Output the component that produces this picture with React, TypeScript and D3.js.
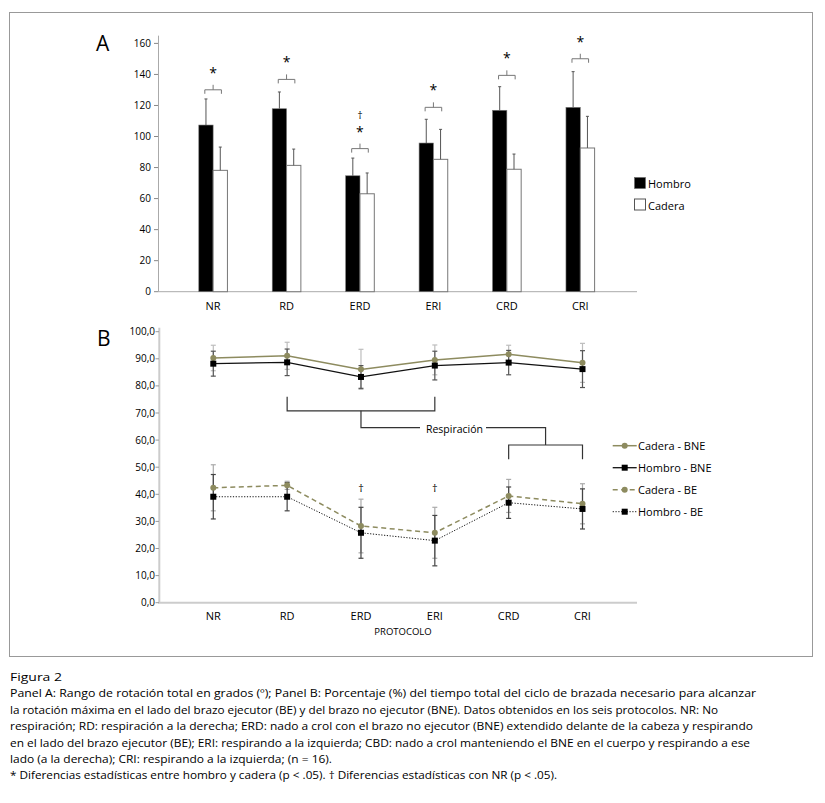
import React from "react";
import * as d3 from "d3";

const W = 825;
const H = 803;
const FONT = "'Open Sans', 'Noto Sans', sans-serif";

// protocols
const categories = ["NR", "RD", "ERD", "ERI", "CRD", "CRI"];

// Panel A: total rotation range (degrees), mean and SD
const hombroA = [107.4, 117.9, 74.7, 95.8, 116.9, 118.8];
const hombroASd = [16.8, 10.8, 11.4, 15.3, 15.2, 23.0];
const caderaA = [78.2, 81.4, 63.1, 85.3, 78.9, 92.6];
const caderaASd = [15.0, 10.5, 13.4, 19.3, 9.8, 20.4];
// height of the significance brackets (same units as the y axis)
const bracketA = [130.1, 136.8, 92.2, 118.8, 139.4, 150.1];
const daggerA = [false, false, true, false, false, false];
const ticksA = [0, 20, 40, 60, 80, 100, 120, 140, 160];

// Panel B: % of stroke cycle, mean and SD
const caderaBNE = [90.3, 91.1, 86.1, 89.6, 91.7, 88.5];
const caderaBNESd = [4.7, 5.0, 7.4, 5.5, 3.3, 7.2];
const hombroBNE = [88.2, 88.7, 83.3, 87.5, 88.6, 86.2];
const hombroBNESd = [4.6, 4.9, 4.2, 5.3, 4.5, 6.8];
const caderaBE = [42.4, 43.3, 28.3, 25.8, 39.4, 36.5];
const caderaBESd = [8.5, 1.5, 9.9, 9.4, 6.1, 7.4];
const hombroBE = [39.1, 39.1, 25.8, 22.9, 36.9, 34.6];
const hombroBESd = [8.2, 5.2, 9.4, 9.3, 5.8, 7.4];
const daggerB = [false, false, true, true, false, false];
const ticksB = [0, 10, 20, 30, 40, 50, 60, 70, 80, 90, 100];

const OLIVE = "#8d8b5f";

const caption = [
  "Figura 2",
  "Panel A: Rango de rotación total en grados (º); Panel B: Porcentaje (%) del tiempo total del ciclo de brazada necesario para alcanzar",
  "la rotación máxima en el lado del brazo ejecutor (BE) y del brazo no ejecutor (BNE). Datos obtenidos en los seis protocolos. NR: No",
  "respiración; RD: respiración a la derecha; ERD: nado a crol con el brazo no ejecutor (BNE) extendido delante de la cabeza y respirando",
  "en el lado del brazo ejecutor (BE); ERI: respirando a la izquierda; CBD: nado a crol manteniendo el BNE en el cuerpo y respirando a ese",
  "lado (a la derecha); CRI: respirando a la izquierda; (n = 16).",
  "* Diferencias estadísticas entre hombro y cadera (p < .05). † Diferencias estadísticas con NR (p < .05).",
];
const captionWidths = [52, 746, 708, 743, 740, 322, 547];

const fmtComma = (v: number) => d3.format(".1f")(v).replace(".", ",");

const PanelA = () => {
  const x = d3.scaleBand().domain(categories).range([176.4, 617]).paddingInner(0.61).paddingOuter(0.305);
  const bw = x.bandwidth() / 2;
  const y = d3.scaleLinear().domain([0, 160]).range([291.7, 43.4]);
  const cap = 1.5;
  return (
    <g>
      <text x={96} y={51} fontSize={21} fontFamily={FONT}>A</text>
      {/* axes */}
      <line x1={158.5} x2={158.5} y1={y(165)} y2={y(0)} stroke="#aaa" />
      <line x1={158} x2={637} y1={y(0)} y2={y(0)} stroke="#aaa" />
      {ticksA.map((t) => (
        <g key={t}>
          <line x1={154} x2={158} y1={y(t)} y2={y(t)} stroke="#888" />
          <text x={151} y={y(t) + 3.5} fontSize={10} textAnchor="end" fontFamily={FONT}>{t}</text>
        </g>
      ))}
      {categories.map((c, i) => {
        const x0 = x(c)!;
        const xh = x0 + bw / 2;
        const xc = x0 + bw * 1.5;
        const mid = x0 + bw;
        const by = y(bracketA[i]);
        return (
          <g key={c}>
            <rect x={x0} y={y(hombroA[i])} width={bw} height={y(0) - y(hombroA[i])} fill="#000" stroke="#777" strokeWidth={0.6} />
            <rect x={x0 + bw} y={y(caderaA[i])} width={bw} height={y(0) - y(caderaA[i])} fill="#fff" stroke="#777" strokeWidth={1} />
            {/* error bars */}
            <line x1={xh} x2={xh} y1={y(hombroA[i])} y2={y(hombroA[i] + hombroASd[i])} stroke="#555" />
            <line x1={xh - cap} x2={xh + cap} y1={y(hombroA[i] + hombroASd[i])} y2={y(hombroA[i] + hombroASd[i])} stroke="#555" />
            <line x1={xc} x2={xc} y1={y(caderaA[i])} y2={y(caderaA[i] + caderaASd[i])} stroke="#555" />
            <line x1={xc - cap} x2={xc + cap} y1={y(caderaA[i] + caderaASd[i])} y2={y(caderaA[i] + caderaASd[i])} stroke="#555" />
            {/* significance bracket */}
            <path d={`M${mid - 8.3},${by + 4}V${by}H${mid + 8.3}V${by + 4}M${mid},${by}V${by - 5}`} fill="none" stroke="#777" />
            <text x={mid} y={by - 12} fontSize={14} textAnchor="middle" fontFamily={FONT}>*</text>
            {daggerA[i] && <text x={mid} y={by - 29.5} fontSize={10} textAnchor="middle" fill="#000" fontFamily={FONT}>†</text>}
            <text x={mid} y={310} fontSize={11} textAnchor="middle" fontFamily={FONT}>{c}</text>
          </g>
        );
      })}
      {/* legend */}
      <rect x={634.5} y={177.5} width={11} height={11} fill="#000" stroke="#666" strokeWidth={0.6} />
      <text x={648} y={188} fontSize={11} fontFamily={FONT}>Hombro</text>
      <rect x={634.5} y={199} width={11} height={11} fill="#fff" stroke="#555" />
      <text x={648} y={209.5} fontSize={11} fontFamily={FONT}>Cadera</text>
    </g>
  );
};

type Series = { name: string; mean: number[]; sd: number[]; color: string; err: string; dash?: string; width: number; marker: "circle" | "square" };

const seriesB: Series[] = [
  { name: "Cadera - BNE", mean: caderaBNE, sd: caderaBNESd, color: OLIVE, err: "#bdbdbd", width: 1.5, marker: "circle" },
  { name: "Hombro - BNE", mean: hombroBNE, sd: hombroBNESd, color: "#111", err: "#555", width: 1.3, marker: "square" },
  { name: "Cadera - BE", mean: caderaBE, sd: caderaBESd, color: OLIVE, err: "#aaa", dash: "5,3.5", width: 1.5, marker: "circle" },
  { name: "Hombro - BE", mean: hombroBE, sd: hombroBESd, color: "#111", err: "#444", dash: "1.2,1.6", width: 1, marker: "square" },
];

const Marker = ({ s, cx, cy }: { s: Series; cx: number; cy: number }) =>
  s.marker === "circle" ? (
    <circle cx={cx} cy={cy} r={3} fill={OLIVE} />
  ) : (
    <rect x={cx - 3} y={cy - 3} width={6} height={6} fill="#000" />
  );

const PanelB = () => {
  const x = d3.scalePoint().domain(categories).range([213.3, 582.5]);
  const y = d3.scaleLinear().domain([0, 100]).range([602.7, 331.7]);
  const line = d3.line<number>().x((_, i) => x(categories[i])!).y((d) => y(d));
  const cap = 2.5;
  const xm1 = (x("RD")! + x("ERI")!) / 2;
  const xm2 = (x("CRD")! + x("CRI")!) / 2;
  return (
    <g>
      <text x={97} y={346} fontSize={21} fontFamily={FONT}>B</text>
      <line x1={159.3} x2={159.3} y1={y(101.5)} y2={y(0)} stroke="#ccc" strokeWidth={2} />
      <line x1={158} x2={637} y1={y(0)} y2={y(0)} stroke="#ccc" strokeWidth={2} />
      {ticksB.map((t) => (
        <g key={t}>
          <line x1={155.5} x2={159} y1={y(t)} y2={y(t)} stroke="#999" />
          <text x={155} y={y(t) + 3.5} fontSize={10} textAnchor="end" fontFamily={FONT}>{fmtComma(t)}</text>
        </g>
      ))}
      {categories.map((c) => (
        <text key={c} x={x(c)!} y={620} fontSize={11} textAnchor="middle" fontFamily={FONT}>{c}</text>
      ))}
      <text x={403} y={635} fontSize={9.5} textAnchor="middle" fontFamily={FONT}>PROTOCOLO</text>
      {/* Respiración brackets */}
      <g fill="none" stroke="#333" strokeWidth={1.2}>
        <path d={`M${x("RD")},${y(76)}V${y(70.8)}H${x("ERI")}V${y(76)}`} />
        <path d={`M${xm1},${y(70.8)}V${y(64.6)}H420`} />
        <path d={`M486,${y(64.6)}H${xm2}V${y(58.2)}`} />
        <path d={`M${x("CRD")},${y(52.9)}V${y(58.2)}H${x("CRI")}V${y(52.9)}`} />
      </g>
      <text x={454.5} y={432.5} fontSize={10.5} textAnchor="middle" fontFamily={FONT}>Respiración</text>
      {/* error bars */}
      {seriesB.map((s) => (
        <g key={s.name + "err"} stroke={s.err} strokeWidth={1.2}>
          {s.mean.map((m, i) => {
            const cx = x(categories[i])!;
            const lo = y(m - s.sd[i]);
            const hi = y(m + s.sd[i]);
            return (
              <g key={i}>
                <line x1={cx} x2={cx} y1={lo} y2={hi} />
                <line x1={cx - cap} x2={cx + cap} y1={lo} y2={lo} />
                <line x1={cx - cap} x2={cx + cap} y1={hi} y2={hi} />
              </g>
            );
          })}
        </g>
      ))}
      {seriesB.map((s) => (
        <g key={s.name}>
          <path d={line(s.mean)!} fill="none" stroke={s.color} strokeWidth={s.width} strokeDasharray={s.dash} />
          {s.mean.map((m, i) => (
            <Marker key={i} s={s} cx={x(categories[i])!} cy={y(m)} />
          ))}
        </g>
      ))}
      {categories.map((c, i) =>
        daggerB[i] ? (
          <text key={c} x={x(c)!} y={492} fontSize={11} textAnchor="middle" fill="#000" fontFamily={FONT}>†</text>
        ) : null
      )}
      {/* legend */}
      {seriesB.map((s, i) => {
        const ly = 445.7 + i * 22;
        return (
          <g key={s.name + "leg"}>
            <line x1={612.7} x2={636.7} y1={ly} y2={ly} stroke={s.color} strokeWidth={s.width} strokeDasharray={s.dash} />
            <Marker s={s} cx={624.7} cy={ly} />
            <text x={638} y={ly + 4} fontSize={11} fontFamily={FONT}>{s.name}</text>
          </g>
        );
      })}
    </g>
  );
};

export default function App() {
  return (
    <svg width={W} height={H} style={{ position: "absolute", left: 0, top: 0, background: "#fff" }}>
      <rect x={0} y={0} width={W} height={H} fill="#fff" />
      <rect x={9.5} y={12.5} width={803} height={644} fill="none" stroke="#999" />
      <PanelA />
      <PanelB />
      {caption.map((t, i) => (
        <text key={i} x={10} y={681 + i * 16.4} fontSize={11.5} fontFamily={FONT} textLength={captionWidths[i]} lengthAdjust="spacingAndGlyphs">
          {t}
        </text>
      ))}
    </svg>
  );
}
